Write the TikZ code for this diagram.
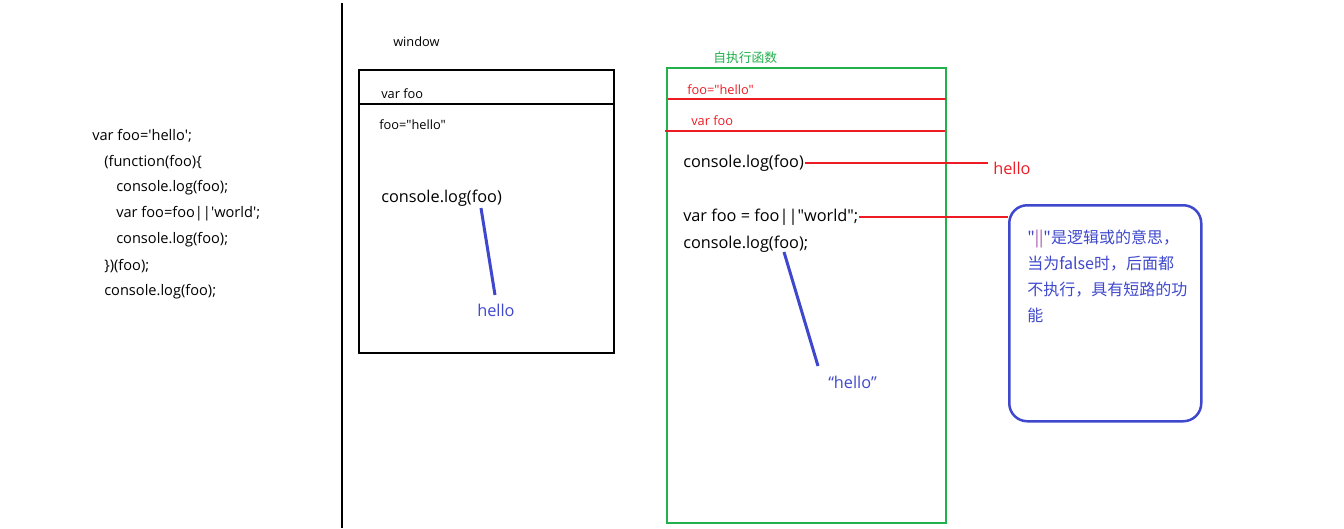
\documentclass[tikz,border=0pt]{standalone}
\usepackage{fontspec}
\setmainfont{Open Sans}[Ligatures=TeXOff]
\newfontfamily\cjk{Noto Sans CJK SC}[Ligatures=TeXOff]
\usepackage{tikz}
\usetikzlibrary{positioning}
\definecolor{paintgreen}{RGB}{34,177,76}
\definecolor{paintred}{RGB}{237,28,36}
\definecolor{paintblue}{RGB}{63,72,204}
\definecolor{paintpurple}{RGB}{163,73,164}

\begin{document}
\begin{tikzpicture}[x=1pt,y=-1pt,line width=2.5pt,node distance=26pt]
  \tikzstyle{code}=[anchor=west,inner sep=0pt,font=\fontsize{14.6}{17}\selectfont]
  \tikzstyle{bigcode}=[anchor=west,inner sep=0pt,font=\fontsize{16.3}{19}\selectfont]
  \tikzstyle{label}=[anchor=west,inner sep=0pt,font=\fontsize{12.8}{15}\selectfont]
  \tikzstyle{redline}=[draw=paintred]
  \tikzstyle{blueline}=[draw=paintblue,line width=3pt]
  \useasboundingbox (0,0) rectangle (1344,528);

  % the source code
  \node[code] (L1) at (91,136) {var foo='hello';};
  \node[code] (L2) at (103,162) {(function(foo)\{};
  \node[code] (L3) at (115,188) {console.log(foo);};
  \node[code] (L4) at (115,214) {var foo=foo||'world';};
  \node[code] (L5) at (115,240) {console.log(foo);};
  \node[code] (L6) at (103,266) {\})(foo);};
  \node[code] (L7) at (103,292) {console.log(foo);};

  \draw (342,3) -- (342,528);

  % window
  \node[label] (win) at (392,42) {window};
  \draw (359,70) rectangle (614,353);
  \draw (359,104) -- (614,104);
  \node[label] (wvar) at (380,94) {var foo};
  \node[label] (wfoo) at (378,125) {foo="hello"};
  \node[bigcode] (wlog) at (380,198) {console.log(foo)};
  \node[bigcode,text=paintblue] (whello) at (476,310) {hello};
  \coordinate (wa) at (481,208);
  \coordinate (wb) at (495,295);
  \draw[blueline] (wa) -- (wb);

  % self-executing function
  \node[label,text=paintgreen] (fn) at (712,58) {\cjk 自执行函数};
  \draw[paintgreen] (667,68) rectangle (946,523);
  \node[label,text=paintred] (ffoo) at (686,90) {foo="hello"};
  \draw[redline] (668,99) -- (946,99);
  \node[label,text=paintred] (fvar) at (690,121) {var foo};
  \draw[redline] (665,131) -- (945,131);
  \node[bigcode] (flog) at (682,163) {console.log(foo)};
  \node[bigcode,text=paintred] (fhello) at (992,168) {hello};
  \draw[redline] (flog.east) -- ([xshift=-4pt]flog.east -| fhello.west);
  \node[bigcode] (fset) at (682,217) {var foo = foo||"world";};
  \node[bigcode] (flog2) at (682,244) {console.log(foo);};
  \node[bigcode,text=paintblue] (fres) at (827,382) {“hello”};
  \coordinate (fa) at (784,252);
  \coordinate (fb) at (818,366);
  \draw[blueline] (fa) -- (fb);

  % note
  \node[draw=paintblue,rounded corners=18pt,minimum width=192pt,minimum height=216pt,
        anchor=north west] (note) at (1008,204) {};
  \node[anchor=north west,inner sep=0pt,text=paintblue,align=left,
        font=\cjk\fontsize{16}{26}\selectfont] (notetext) at (1026,229)
        {"{\color{paintpurple}||}"是逻辑或的意思，\\当为false时，后面都\\不执行，具有短路的功\\能};
  \draw[redline] (fset.east) -- (note.west |- fset.east);
\end{tikzpicture}
\end{document}
